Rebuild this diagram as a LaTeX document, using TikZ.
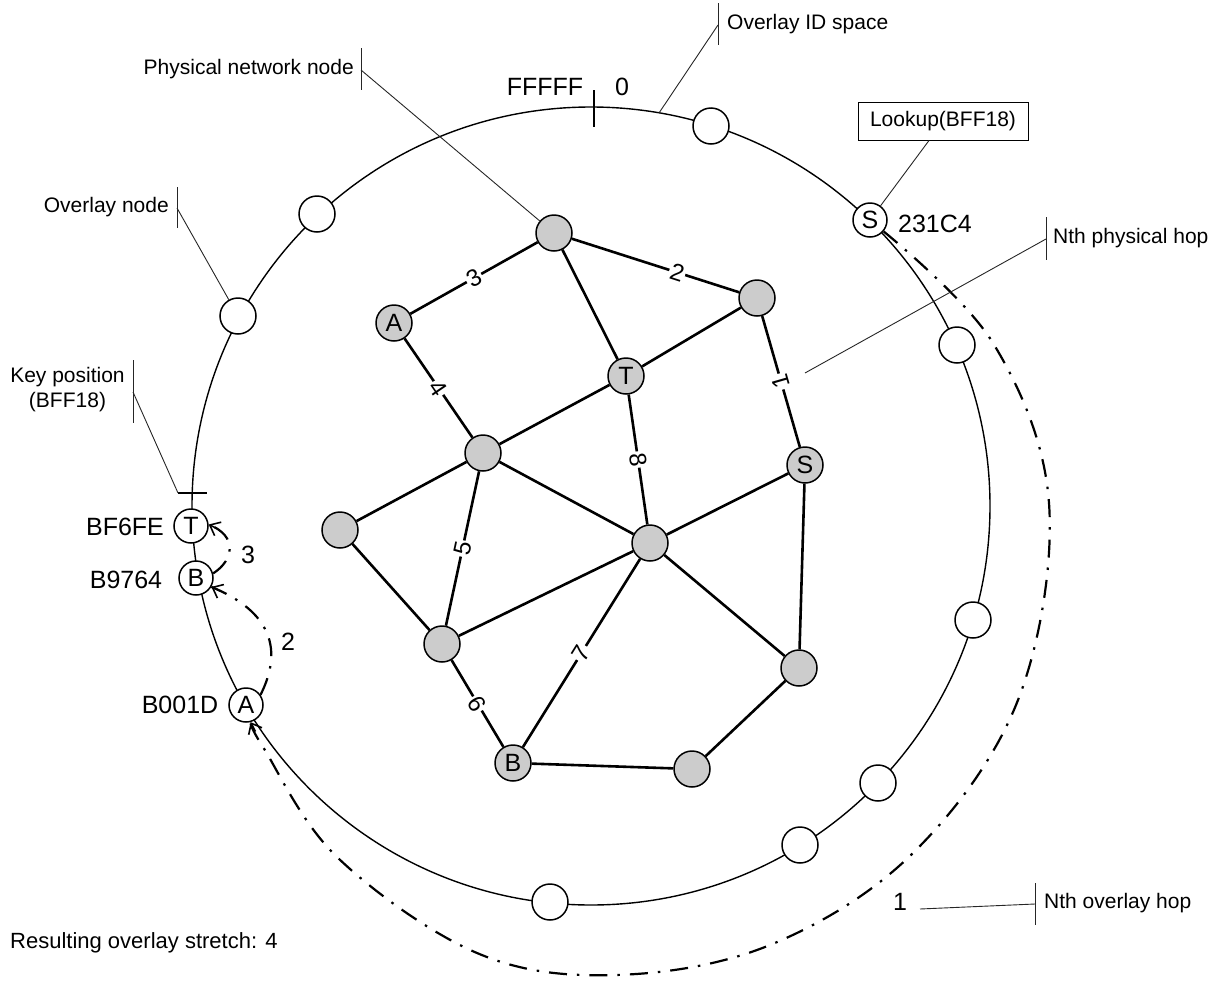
\documentclass[tikz,border=0pt]{standalone}
\usepackage{fontspec}
\setmainfont{Liberation Sans}
\usetikzlibrary{arrows.meta}
\definecolor{physgray}{HTML}{CCCCCC}
\begin{document}
\begin{tikzpicture}[x=1pt,y=-1pt,
  ring/.style={line width=1.4pt},
  ovnode/.style={circle, draw, line width=1.5pt, fill=white, minimum size=36pt, inner sep=0pt},
  ovlet/.style={circle, draw, line width=1.5pt, fill=white, minimum size=34pt, inner sep=0pt, font=\fontsize{25}{30}\selectfont},
  phys/.style={circle, draw, line width=1.5pt, fill=physgray, minimum size=36pt, inner sep=0pt, font=\fontsize{25}{30}\selectfont},
  link/.style={line width=2.6pt},
  elabel/.style={fill=white, inner sep=1.5pt, sloped, font=\fontsize{24}{28}\selectfont},
  callout/.style={line width=0.9pt, black!85},
  bar/.style={line width=1pt, black!85},
  ctext/.style={font=\fontsize{21}{25}\selectfont, inner sep=0pt},
  big/.style={font=\fontsize{25}{30}\selectfont, inner sep=0pt},
  hop/.style={line width=2.2pt, dash pattern=on 18pt off 10pt on 2.5pt off 10pt},
  hoptip/.style={solid, line width=1.6pt, -{Straight Barb[length=9pt,width=15pt]}}
]
\useasboundingbox (0,0) rectangle (1221,983);

% overlay ring
\coordinate (c) at (591,506);
\draw[ring] (c) circle[radius=399pt];
% ticks
\draw[line width=2pt] (594,90) -- (594,127);
\coordinate (keytick) at (178,493);
\draw[line width=2pt] (keytick) -- (207,493);
\node[big] (fffff) at (545,87) {FFFFF};
\node[big] (zero) at (622,87) {0};

% overlay nodes
\node[ovnode] (O1) at (711,126) {};
\node[ovlet] (Sov) at (870,220) {S};
\node[ovnode] (O3) at (957,345) {};
\node[ovnode] (O4) at (973,620) {};
\node[ovnode] (O5) at (878,783) {};
\node[ovnode] (O6) at (800,845) {};
\node[ovnode] (O7) at (550,902) {};
\node[ovlet] (Aov) at (246,705) {A};
\node[ovlet] (Bov) at (196,578) {B};
\node[ovlet] (Tov) at (191,526) {T};
\node[ovnode] (O11) at (238,316) {};
\node[ovnode] (O12) at (317,214) {};

\node[big] (lS) at (935,224) {231C4};
\node[big] (lT) at (125,527) {BF6FE};
\node[big] (lB) at (126,580) {B9764};
\node[big] (lA) at (180,705) {B001D};

% physical nodes
\node[phys] (P1) at (554,233) {};
\node[phys] (P2) at (757,298) {};
\node[phys] (PA) at (394,323) {A};
\node[phys] (PT) at (626,376) {T};
\node[phys] (P3) at (483,453) {};
\node[phys] (PS) at (805,465) {S};
\node[phys] (P4) at (340,530) {};
\node[phys] (P5) at (650,543) {};
\node[phys] (P6) at (442,644) {};
\node[phys] (P7) at (799,668) {};
\node[phys] (PB) at (513,763) {B};
\node[phys] (P8) at (692,769) {};

% physical links
\draw[link] (PA) -- node[elabel] {3} (P1);
\draw[link] (P1) -- node[elabel, pos=0.63] {2} (P2);
\draw[link] (P1) -- (PT);
\draw[link] (PA) -- node[elabel] {4} (P3);
\draw[link] (P3) -- (PT);
\draw[link] (PT) -- (P2);
\draw[link] (PS) -- node[elabel, allow upside down] (h1) {1} (P2);
\draw[link] (PT) -- node[elabel] {8} (P5);
\draw[link] (P3) -- (P4);
\draw[link] (P3) -- node[elabel] {5} (P6);
\draw[link] (P3) -- (P5);
\draw[link] (P4) -- (P6);
\draw[link] (P6) -- (P5);
\draw[link] (P5) -- (PS);
\draw[link] (P5) -- node[elabel] {7} (PB);
\draw[link] (P5) -- (P7);
\draw[link] (PS) -- (P7);
\draw[link] (P6) -- node[elabel] {6} (PB);
\draw[link] (PB) -- (P8);
\draw[link] (P8) -- (P7);

% overlay hops (dash-dot curves, solid arrow tips)
\draw[hop] plot[smooth, tension=0.6] coordinates {(Sov.-40) (993,343) (1049,503) (1018,700) (913,853) (770,945) (615,975) (477,953) (337,857) (263,747) (Aov.-75)};
\coordinate (t1) at (255.5,731.5);
\draw[hoptip] (t1) -- (Aov.-75);
\draw[hop] (Aov.35) .. controls (283,650) and (272,612) .. (Bov.-30);
\coordinate (t2) at (220,591);
\draw[hoptip] (t2) -- (Bov.-30);
\draw[hop] (Bov.15) .. controls (234,560) and (238,536) .. (Tov.5);
\coordinate (t3) at (217,528.5);
\draw[hoptip] (t3) -- (Tov.5);
\node[big] (n1) at (900,902) {1};
\node[big] (n2) at (288,642) {2};
\node[big] (n3) at (248,555) {3};

% callouts
\coordinate (ovidbar) at (718,25);
\coordinate (ovidring) at (659,113);
\draw[bar] (718,3) -- (718,45);
\draw[callout] (ovidbar) -- (ovidring);
\node[ctext, anchor=west] (tovid) at (727,24) {Overlay ID space};

\coordinate (physbar) at (361,70);
\draw[bar] (361,48) -- (361,90);
\draw[callout] (physbar) -- (P1);
\node[ctext, anchor=east] (tphys) at (354,69) {Physical network node};

\coordinate (ovnbar) at (177,208);
\draw[bar] (177,187) -- (177,228);
\draw[callout] (ovnbar) -- (O11);
\node[ctext, anchor=east] (tovn) at (169,207) {Overlay node};

\coordinate (keybar) at (133,392);
\draw[bar] (133,360) -- (133,423);
\draw[callout] (keybar) -- (keytick);
\node[ctext, align=center] (tkey) at (67.5,390) {Key position\\(BFF18)};

\node[draw, line width=1pt, font=\fontsize{21}{25}\selectfont, minimum width=170pt, minimum height=38pt, inner sep=0pt] (lookup) at (943,121) {Lookup(BFF18)};
\draw[callout] ([xshift=-14pt]lookup.south) -- (Sov);

\coordinate (phbar) at (1046,239);
\coordinate (phend) at (805,373);
\draw[bar] (1046,217) -- (1046,260);
\draw[callout] (phbar) -- (phend);
\node[ctext, anchor=west] (tph) at (1053,238) {Nth physical hop};

\coordinate (ohbar) at (1035,904);
\coordinate (ohend) at (920,909);
\draw[bar] (1035,883) -- (1035,925);
\draw[callout] (ohbar) -- (ohend);
\node[ctext, anchor=west] (toh) at (1044,903) {Nth overlay hop};

\node[font=\fontsize{22}{26}\selectfont, inner sep=0pt, anchor=west] (stretch) at (10,943) {Resulting overlay stretch: 4};
\end{tikzpicture}
\end{document}
